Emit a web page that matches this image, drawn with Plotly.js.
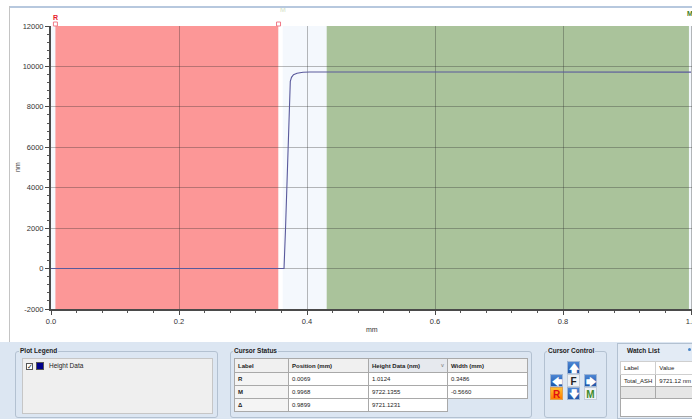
<!DOCTYPE html>
<html>
<head>
<meta charset="utf-8">
<script src="https://cdn.plot.ly/plotly-3.0.1.min.js"></script>
<style>
html,body{margin:0;padding:0;width:692px;height:419px;overflow:hidden;background:#fff;font-family:"Liberation Sans",Arial,sans-serif;}
#plot{position:absolute;left:0;top:0;width:730px;height:342px;}
.abs{position:absolute;}
#panel{position:absolute;left:0;top:342px;width:692px;height:77px;background:#dce6f2;}
.grp{position:absolute;border:1px solid #b3c1d1;border-radius:3px;box-sizing:border-box;}
.gt{position:absolute;font-weight:bold;font-size:6.5px;color:#222;background:#dce6f2;padding:0 1px;line-height:8px;}
table.cs{position:absolute;border-collapse:collapse;font-size:6px;color:#222;}
table.cs td{border:1px solid #a9a9a9;padding:0 3px;height:12px;box-sizing:border-box;white-space:nowrap;}
.btn{position:absolute;width:13px;height:13px;box-sizing:border-box;font-weight:bold;font-size:10px;line-height:13px;text-align:center;}
.arr{background:linear-gradient(#4d86d4,#1f56a8);border:1px solid #9fb6d6;color:#fff;font-size:10px;}
</style>
</head>
<body>
<div id="plot"></div>
<div class="abs" style="left:9px;top:6px;width:690px;height:2px;background:#b7c8de;"></div>
<div class="abs" style="left:9px;top:6px;width:1px;height:336px;background:#c4c4c4;"></div>

<div id="panel">
  <!-- Plot Legend -->
  <div class="grp" style="left:15px;top:9px;width:203px;height:67px;"></div>
  <div class="gt" style="left:19px;top:5px;">Plot Legend</div>
  <div class="abs" style="left:22px;top:16px;width:191px;height:56px;background:#efefef;border:1px solid #c6c6c6;box-sizing:border-box;"></div>
  <div class="abs" style="left:26px;top:21px;width:7px;height:7px;border:1px solid #555;background:#fff;box-sizing:border-box;font-size:7px;line-height:5px;text-align:center;color:#222;">&#10003;</div>
  <div class="abs" style="left:36px;top:20px;width:8px;height:8px;background:#00008b;border:1px solid #555;box-sizing:border-box;"></div>
  <div class="abs" style="left:49px;top:20px;font-size:6.5px;line-height:8px;color:#222;">Height Data</div>

  <!-- Cursor Status -->
  <div class="grp" style="left:230px;top:9px;width:302px;height:67px;"></div>
  <div class="gt" style="left:233px;top:5px;">Cursor Status</div>
  <table class="cs" id="cstab" style="left:234px;top:16px;"></table>

  <!-- Cursor Control -->
  <div class="grp" style="left:544px;top:9px;width:63px;height:67px;"></div>
  <div class="gt" style="left:547px;top:5px;">Cursor Control</div>
  <div class="btn arr" style="left:567px;top:19px;">&#129093;</div>
  <div class="btn arr" style="left:550px;top:32px;">&#129092;</div>
  <div class="btn" style="left:567px;top:32px;background:#eef1f5;border:1px solid #c3ccd8;color:#222;">F</div>
  <div class="btn arr" style="left:584px;top:32px;">&#129094;</div>
  <div class="btn" style="left:550px;top:45px;background:linear-gradient(#ffc233,#ff7a00);border:1px solid #e0a050;color:#e01010;">R</div>
  <div class="btn arr" style="left:567px;top:45px;">&#129095;</div>
  <div class="btn" style="left:584px;top:45px;background:#eef1f5;border:1px solid #c3ccd8;color:#3f8a2a;">M</div>

  <!-- Watch List -->
  <div class="abs" style="left:617px;top:1px;width:80px;height:76px;background:#e3ebf5;border:1px solid #b3c1d1;box-sizing:border-box;"></div>
  <div class="gt" style="left:626px;top:5px;background:none;">Watch List</div>
  <div class="abs" style="left:688px;top:6px;width:3px;height:3px;border-radius:2px;background:#4a86c8;"></div>
  <div class="abs" style="left:620px;top:19px;width:75px;height:56px;background:#fff;border:1px solid #a9a9a9;box-sizing:border-box;"></div>
  <table class="cs" id="wltab" style="left:620px;top:19px;"></table>
</div>

<script>
// ---- profile data (mm, nm) ----
const positionMm = [0, 0.05, 0.10, 0.15, 0.20, 0.25, 0.30, 0.35, 0.3641,
  0.3664, 0.3688, 0.3711, 0.3730, 0.3739, 0.3758, 0.3789, 0.3844, 0.3938, 0.4047,
  0.45, 0.50, 0.55, 0.60, 0.65, 0.70, 0.75, 0.80, 0.85, 0.90, 0.95, 0.9968, 1.0];
const heightNm = [1.0, 1.2, 0.8, 1.1, 0.9, 1.0, 1.1, 0.9, 2.0,
  1930, 4400, 7380, 8860, 9260, 9460, 9590, 9660, 9710, 9728,
  9726, 9720, 9724, 9718, 9722, 9725, 9719, 9723, 9716, 9721, 9724, 9722, 9720];

// ---- cursors ----
const cursorLabels = ["R", "M", "Δ"];
const cursorPosition = ["0.0069", "0.9968", "0.9899"];
const cursorHeight = ["1.0124", "9722.1355", "9721.1231"];
const cursorWidth = ["0.3486", "-0.5660", ""];
const rPos = 0.0069, rWidth = 0.3486;
const mPos = 0.9968, mWidth = -0.5660;

// ---- watch list ----
const watchLabels = ["Total_ASH"];
const watchValues = ["9721.12 nm"];

// ---- ticks ----
const xTicks = [0, 0.2, 0.4, 0.6, 0.8, 1.0];
const xTickText = ["0.0", "0.2", "0.4", "0.6", "0.8", "1.0"];
const yTicks = [-2000, 0, 2000, 4000, 6000, 8000, 10000, 12000];
const yTickText = ["-2000", "0", "2000", "4000", "6000", "8000", "10000", "12000"];

const tickFont = {family: "Liberation Sans, Arial, sans-serif", size: 7.5, color: "#333"};
const titleFont = {family: "Liberation Sans, Arial, sans-serif", size: 7, color: "#333"};
const grid = "rgba(40,40,40,0.32)";

const shapes = [
  {type: "rect", xref: "x", yref: "paper", x0: rPos, x1: rPos + rWidth, y0: 0, y1: 1,
   fillcolor: "#fc9797", line: {width: 0}, layer: "below"},
  {type: "rect", xref: "x", yref: "paper", x0: rPos + rWidth, x1: 0.362, y0: 0, y1: 1,
   fillcolor: "#ffffff", line: {width: 0}, layer: "below"},
  {type: "rect", xref: "x", yref: "paper", x0: mPos + mWidth, x1: mPos, y0: 0, y1: 1,
   fillcolor: "#aac39b", line: {width: 0}, layer: "below"},
  {type: "rect", xref: "x", yref: "paper", xsizemode: "pixel", ysizemode: "pixel",
   xanchor: rPos, yanchor: 1, x0: -2, x1: 2, y0: 0, y1: 4,
   fillcolor: "#fff", line: {color: "#f07a88", width: 1}, layer: "above"},
  {type: "rect", xref: "x", yref: "paper", xsizemode: "pixel", ysizemode: "pixel",
   xanchor: rPos + rWidth, yanchor: 1, x0: -2, x1: 2, y0: 0, y1: 4,
   fillcolor: "#fff", line: {color: "#f07a88", width: 1}, layer: "above"}
];

const annotations = [
  {xref: "x", yref: "paper", x: rPos, y: 1, yanchor: "bottom", yshift: 3, showarrow: false,
   text: "<b>R</b>", font: {family: "Liberation Sans, Arial", size: 7, color: "#e8202a"}},
  {xref: "x", yref: "paper", x: 0.3625, y: 1, yanchor: "bottom", yshift: 11, showarrow: false,
   text: "M", font: {family: "Liberation Sans, Arial", size: 7, color: "#d3dfc6"}},
  {xref: "x", yref: "paper", x: mPos + 0.002, y: 1, yanchor: "bottom", yshift: 7, showarrow: false,
   text: "<b>M</b>", font: {family: "Liberation Sans, Arial", size: 7, color: "#3f7d22"}},
  // axis titles
  {xref: "paper", yref: "paper", x: (372 - 51) / 672, y: 0, yanchor: "middle", yshift: -20,
   showarrow: false, text: "mm", font: titleFont},
  {xref: "paper", yref: "paper", x: 0, xanchor: "center", xshift: -34, y: (309 - 167) / 283,
   showarrow: false, text: "nm", textangle: -90, font: titleFont}
];

const trace = {
  x: positionMm, y: heightNm, type: "scatter", mode: "lines",
  line: {color: "#5a5a9c", width: 1.1}, hoverinfo: "skip"
};

const layout = {
  width: 730, height: 342,
  margin: {l: 51, r: 7, t: 26, b: 33},
  paper_bgcolor: "rgba(0,0,0,0)", plot_bgcolor: "#f4f8fd",
  showlegend: false,
  xaxis: {
    range: [0, 1.05], tickvals: xTicks, ticktext: xTickText, tickfont: tickFont,
    showgrid: true, gridcolor: grid, gridwidth: 1, zeroline: false,
    showline: true, linecolor: "#4a4a4a", linewidth: 2,
    ticks: "outside", ticklen: 4, tickcolor: "#4a4a4a",
    minor: {dtick: 0.04, ticks: "outside", ticklen: 2, tickcolor: "#555", showgrid: false}
  },
  yaxis: {
    range: [-2000, 12000], tickvals: yTicks, ticktext: yTickText, tickfont: tickFont,
    showgrid: true, gridcolor: grid, gridwidth: 1, zeroline: false,
    showline: true, linecolor: "#4a4a4a", linewidth: 2,
    ticks: "outside", ticklen: 4, tickcolor: "#4a4a4a",
    minor: {dtick: 400, ticks: "outside", ticklen: 2, tickcolor: "#555", showgrid: false}
  },
  shapes: shapes,
  annotations: annotations
};

Plotly.newPlot("plot", [trace], layout, {staticPlot: true, displayModeBar: false});

// ---- Cursor Status table ----
const colW = [54, 80, 79, 80];
const headers = ["Label", "Position (mm)", "Height Data (nm)", "Width (mm)"];
let html = "<tr style='height:14px'>";
headers.forEach((h, i) => {
  const bg = i === 2 ? "#e6e9ee" : "#f0f0f0";
  const extra = i === 2 ? "<span style='float:right;color:#888;font-size:5px'>&#709;</span>" : "";
  html += `<td style='width:${colW[i]}px;height:14px;background:${bg};font-weight:bold;'>${h}${extra}</td>`;
});
html += "</tr>";
cursorLabels.forEach((lab, r) => {
  html += "<tr>";
  html += `<td style='background:#f4f4f4;font-weight:bold;height:13px'>${lab}</td>`;
  html += `<td style='background:#fff'>${cursorPosition[r]}</td>`;
  html += `<td style='background:#fff'>${cursorHeight[r]}</td>`;
  if (cursorWidth[r] !== "") html += `<td style='background:#fff'>${cursorWidth[r]}</td>`;
  else html += `<td style='border:none;background:transparent'></td>`;
  html += "</tr>";
});
document.getElementById("cstab").innerHTML = html;

// ---- Watch List table ----
let w = "<tr><td style='width:35px;height:13px;background:#fff;border-color:#cfcfcf'>Label</td><td style='width:45px;background:#fff;border-color:#cfcfcf'>Value</td></tr>";
watchLabels.forEach((l, i) => {
  w += `<tr><td style='background:#fff;height:12px'>${l}</td><td style='background:#fff'>${watchValues[i]}</td></tr>`;
});
w += "<tr><td style='background:#e6e6e6;height:9px'></td><td style='background:#e6e6e6'></td></tr>";
document.getElementById("wltab").innerHTML = w;
</script>
</body>
</html>
